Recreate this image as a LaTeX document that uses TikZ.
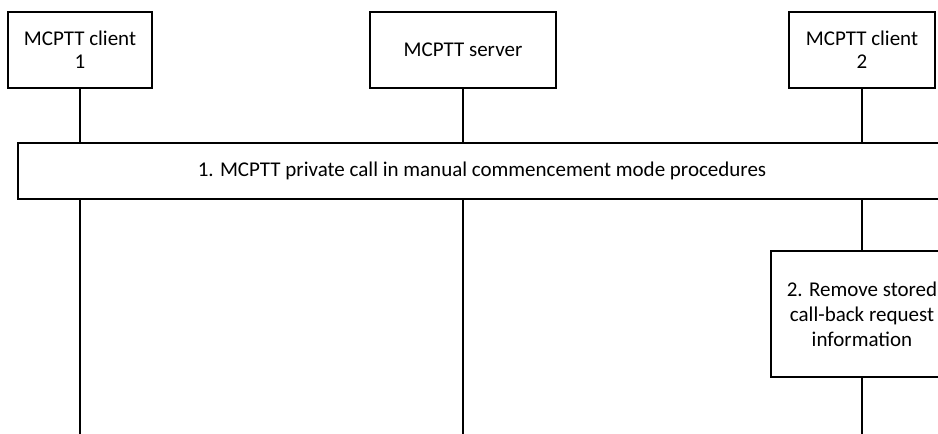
\documentclass[tikz,border=0pt]{standalone}
\usepackage{fontspec}
\setmainfont{Carlito}
\usetikzlibrary{positioning}

\tikzset{
  entity/.style={draw,fill=white,line width=1.2pt,minimum height=76,align=center,inner sep=2pt,font=\fontsize{21}{23}\selectfont},
  procbox/.style={draw,fill=white,line width=1.2pt,align=center,inner sep=2pt,font=\fontsize{21}{25}\selectfont},
  life/.style={line width=1.2pt}
}

\begin{document}
\begin{tikzpicture}[x=1pt,y=-1pt]
\useasboundingbox (0,0) rectangle (938,434);
\clip (0,0) rectangle (938,434);
\node[entity,minimum width=144] (c1) at (80,50) {MCPTT client\\1};
\node[entity,minimum width=186] (srv) at (463,50) {MCPTT server};
\node[entity,minimum width=146] (c2) at (862,50) {MCPTT client\\2};
\node[procbox,minimum width=928,minimum height=56] (proc) at (482,171) {1. MCPTT private call in manual commencement mode procedures};
\node[procbox,minimum width=182,minimum height=126] (rm) at (862,314) {2. Remove stored\\call-back request\\information};
\coordinate (e1) at (c1.south |- 0,434);
\coordinate (e2) at (srv.south |- 0,434);
\coordinate (e3) at (rm.south |- 0,434);
% lifelines
\draw[life] (c1.south) -- (c1.south |- proc.north);
\draw[life] (c1.south |- proc.south) -- (e1);
\draw[life] (srv.south) -- (srv.south |- proc.north);
\draw[life] (srv.south |- proc.south) -- (e2);
\draw[life] (c2.south) -- (c2.south |- proc.north);
\draw[life] (c2.south |- proc.south) -- (rm.north);
\draw[life] (rm.south) -- (e3);
\end{tikzpicture}
\end{document}
